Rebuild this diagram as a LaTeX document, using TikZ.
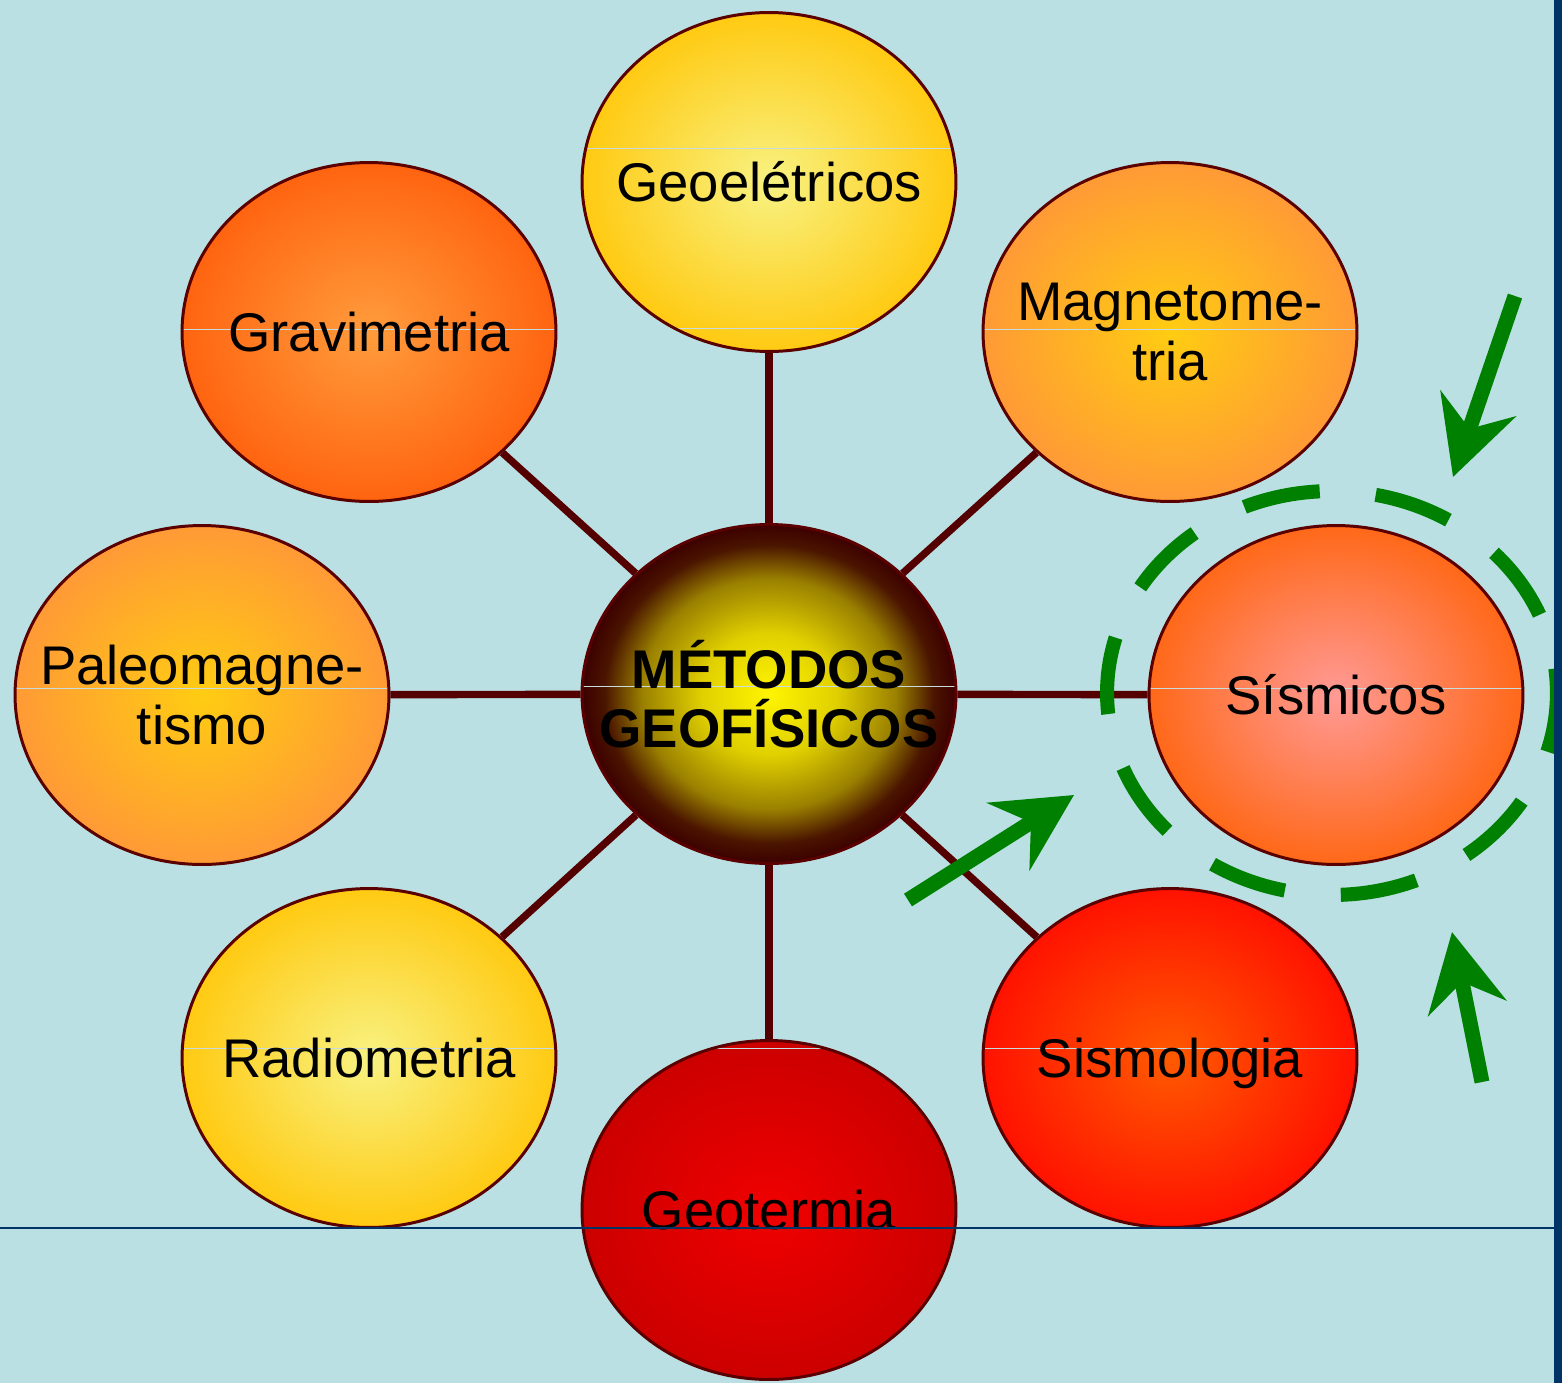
\documentclass[tikz,border=0pt]{standalone}
\usepackage{fontspec}
\setmainfont{Liberation Sans}
\usetikzlibrary{shapes.geometric,arrows.meta}

\definecolor{sea}{HTML}{BAE0E3}
\definecolor{navy}{HTML}{003366}
\definecolor{rim}{HTML}{5A0000}
\definecolor{spokebrown}{HTML}{550000}
\definecolor{seamgray}{HTML}{C8DCDE}
\definecolor{leaf}{HTML}{008000}
% fill colours, inner and outer
\definecolor{hubin}{HTML}{FFF500}   \definecolor{hubout}{HTML}{3C0000}
\definecolor{lemonin}{HTML}{F8F282} \definecolor{lemonout}{HTML}{FFCA12}
\definecolor{amberin}{HTML}{FFCC12} \definecolor{amberout}{HTML}{FF9A36}
\definecolor{tanin}{HTML}{FF9C3C}   \definecolor{tanout}{HTML}{FF6410}
\definecolor{pinkin}{HTML}{FF9A96}  \definecolor{pinkout}{HTML}{FF6818}
\definecolor{firein}{HTML}{FF5A00}  \definecolor{fireout}{HTML}{FF1200}
\definecolor{lavain}{HTML}{F00000}  \definecolor{lavaout}{HTML}{CC0000}
% outer colour is reached at the rim (25bp), kept to the corners
\newcommand\ballshade[3]{\pgfdeclareradialshading{#1}{\pgfpointorigin}{color(0bp)=(#2); color(25bp)=(#3); color(50bp)=(#3)}}
\ballshade{lemonshade}{lemonin}{lemonout}
\ballshade{ambershade}{amberin}{amberout}
\ballshade{tanshade}{tanin}{tanout}
\ballshade{pinkshade}{pinkin}{pinkout}
\ballshade{fireshade}{firein}{fireout}
\ballshade{lavashade}{lavain}{lavaout}
\pgfdeclareradialshading{hubshade}{\pgfpointorigin}{color(0bp)=(hubin); color(9bp)=(rgb,255:red,224;green,208;blue,0);
  color(17bp)=(rgb,255:red,154;green,128;blue,0); color(22bp)=(rgb,255:red,74;green,21;blue,0); color(25bp)=(hubout); color(50bp)=(hubout)}

\tikzset{x=0.02cm, y=-0.02cm,
  bubble/.style={ellipse, draw=rim, line width=1.7pt, inner ysep=0pt, inner xsep=-2.2cm,
    minimum width=7.48cm, minimum height=6.78cm, align=center,
    font=\fontsize{31}{34}\selectfont},
  oneline/.style={text height=22.6pt, text depth=0pt},
  seam/.style={path picture={\draw [seamgray, line width=0.5pt]
    ([yshift=#1]path picture bounding box.west) -- ([yshift=#1]path picture bounding box.east);}},
  geoseam/.style={path picture={
    \draw [seamgray, line width=0.5pt] ([yshift=0.68cm]path picture bounding box.west) -- ([yshift=0.68cm]path picture bounding box.east);
    \draw [seamgray, line width=0.5pt] ([yshift=-2.92cm]path picture bounding box.west) -- ([yshift=-2.92cm]path picture bounding box.east);}},
  spoke/.style={draw=spokebrown, line width=4.2pt},
  ring/.style={draw=leaf, line width=8pt, dash pattern=on 44pt off 32pt, dash phase=30pt},
  pointer/.style={draw=leaf, line width=8.5pt, -{Stealth[length=44pt, width=45pt, inset=15pt]}}}

\begin{document}
\begin{tikzpicture}

   \fill [sea] (0,0) rectangle (1562,1383);
   \useasboundingbox (0,0) rectangle (1562,1383);

   % hub and its eight methods
   \node (hub) [bubble, shading=hubshade, seam=0.16cm,
                font=\fontsize{31}{34}\selectfont\bfseries] at (769,694) {MÉTODOS\\GEOFÍSICOS};

   \node (geo)   [bubble, oneline, shading=lemonshade, geoseam]      at (769,182)  {Geoelétricos};
   \node (grav)  [bubble, oneline, shading=tanshade, seam=0.06cm]    at (369,332)  {Gravimetria};
   \node (mag)   [bubble, shading=ambershade, seam=0.06cm]           at (1170,332) {Magnetome-\\tria};
   \node (paleo) [bubble, shading=ambershade, seam=0.14cm]           at (202,695)  {Paleomagne-\\tismo};
   \node (sism)  [bubble, oneline, shading=pinkshade, seam=0.14cm]   at (1336,695) {Sísmicos};
   \node (radio) [bubble, oneline, shading=lemonshade, seam=0.2cm]   at (369,1058) {Radiometria};
   \node (geot)  [bubble, oneline, shading=lavashade, seam=3.24cm]   at (769,1210) {Geotermia};
   \node (sismo) [bubble, oneline, shading=fireshade, seam=0.2cm]    at (1170,1058) {Sismologia};

   \draw [spoke] (hub) to (geo);
   \draw [spoke] (hub) to (grav);
   \draw [spoke] (hub) to (mag);
   \draw [spoke] (hub) to (paleo);
   \draw [spoke] (hub) to (sism);
   \draw [spoke] (hub) to (radio);
   \draw [spoke] (hub) to (geot);
   \draw [spoke] (hub) to (sismo);

   % highlight round Sismicos
   \coordinate (ringc) at (1332,693);
   \draw [ring] (ringc) ellipse [x radius=4.5cm, y radius=4.04cm];

   \coordinate (a1s) at (908,900);
   \coordinate (a1t) at (1074,795);
   \coordinate (a2s) at (1515,296);
   \coordinate (a2t) at (1453,477);
   \coordinate (a3s) at (1482,1082);
   \coordinate (a3t) at (1452,932);
   \draw [pointer] (a1s) -- (a1t);
   \draw [pointer] (a2s) -- (a2t);
   \draw [pointer] (a3s) -- (a3t);

   % frame lines
   \draw [navy, line width=1.2pt] (0,1228) -- (1554,1228);
   \fill [navy] (1554,0) rectangle (1562,1383);

\end{tikzpicture}
\end{document}
